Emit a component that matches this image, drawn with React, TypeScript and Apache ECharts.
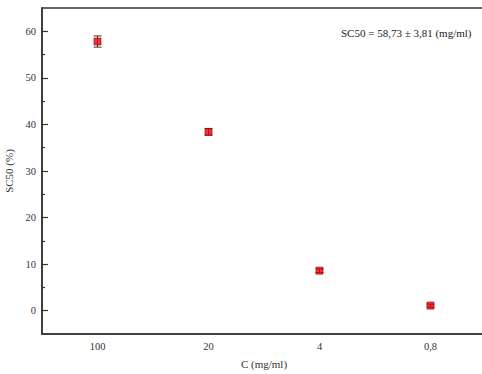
import React, { useEffect, useRef } from "react";
import * as echarts from "echarts";

const categories = ["100", "20", "4", "0,8"];
const meanValues = [57.8, 38.4, 8.6, 1.1];
const errorValues = [1.2, 0.7, 0.4, 0.3];
const yMajorTicks = [0, 10, 20, 30, 40, 50, 60];
const yMinorTicks = [5, 15, 25, 35, 45, 55];
const annotation = "SC50 = 58,73 ± 3,81 (mg/ml)";

const FONT = "Liberation Serif";

export default function App() {
  const ref = useRef<HTMLDivElement>(null);
  useEffect(() => {
    if (!ref.current) return;
    const chart = echarts.init(ref.current, undefined, { renderer: "svg" });
    const errData = categories.map((c, i) => [
      i,
      meanValues[i] - errorValues[i],
      meanValues[i] + errorValues[i],
    ]);
    chart.setOption({
      animation: false,
      backgroundColor: "#fff",
      grid: {
        left: 42,
        top: 8,
        bottom: 40,
        right: 0,
        containLabel: false,
        outerBoundsMode: "none",
        show: true,
        borderColor: "#333",
        borderWidth: 1.5,
        backgroundColor: "transparent",
      },
      xAxis: {
        type: "category",
        data: categories,
        boundaryGap: true,
        name: "C (mg/ml)",
        nameLocation: "middle",
        nameGap: 24,
        nameTextStyle: { fontFamily: FONT, fontSize: 11, color: "#333" },
        axisLine: { onZero: false, lineStyle: { color: "#333", width: 1.5 } },
        axisTick: { inside: true, length: 5, alignWithLabel: true, lineStyle: { color: "#333", width: 1.2 } },
        axisLabel: { fontFamily: FONT, fontSize: 10.5, color: "#333", margin: 7 },
        splitLine: { show: false },
      },
      yAxis: [
        {
          type: "value",
          min: -5,
          max: 65,
          name: "SC50 (%)",
          nameLocation: "middle",
          nameGap: 21,
          nameRotate: 90,
          nameTextStyle: { fontFamily: FONT, fontSize: 11, color: "#333" },
          axisLine: { show: true, onZero: false, lineStyle: { color: "#333", width: 1.5 } },
          axisTick: {
            show: true,
            inside: true,
            length: 6,
            customValues: yMajorTicks,
            lineStyle: { color: "#333", width: 1.2 },
          },
          axisLabel: {
            fontFamily: FONT,
            fontSize: 10.5,
            color: "#333",
            margin: 6,
            customValues: yMajorTicks,
          },
          splitLine: { show: false },
        },
        {
          type: "value",
          min: -5,
          max: 65,
          position: "left",
          offset: 0,
          axisLine: { show: false, onZero: false },
          axisTick: {
            show: true,
            inside: true,
            length: 3,
            customValues: yMinorTicks,
            lineStyle: { color: "#333", width: 1.2 },
          },
          axisLabel: { show: false },
          splitLine: { show: false },
        },
      ],
      graphic: [
        {
          type: "text",
          left: 341,
          top: 27,
          style: {
            text: annotation,
            fontFamily: FONT,
            fontSize: 11,
            fill: "#222",
          },
        },
      ],
      series: [
        {
          type: "custom",
          yAxisIndex: 0,
          data: errData,
          renderItem: (params: any, api: any) => {
            const x = api.value(0);
            const lo = api.coord([x, api.value(1)]);
            const hi = api.coord([x, api.value(2)]);
            const cw = 4;
            const st = { stroke: "#333", lineWidth: 1 };
            return {
              type: "group",
              children: [
                { type: "line", shape: { x1: lo[0], y1: lo[1], x2: hi[0], y2: hi[1] }, style: st },
                { type: "line", shape: { x1: lo[0] - cw, y1: lo[1], x2: lo[0] + cw, y2: lo[1] }, style: st },
                { type: "line", shape: { x1: hi[0] - cw, y1: hi[1], x2: hi[0] + cw, y2: hi[1] }, style: st },
              ],
            };
          },
          z: 2,
        },
        {
          type: "scatter",
          yAxisIndex: 0,
          data: meanValues.map((v, i) => [i, v]),
          symbol: "rect",
          symbolSize: 7,
          itemStyle: { color: "#e8000b", borderColor: "#9a0000", borderWidth: 0.8 },
          z: 3,
        },
      ],
    });
    return () => chart.dispose();
  }, []);
  return (
    <div
      style={{
        position: "absolute",
        left: 0,
        top: 0,
        width: 482,
        height: 374,
        overflow: "hidden",
      }}
    >
      <div ref={ref} style={{ width: 486, height: 374 }} />
    </div>
  );
}
